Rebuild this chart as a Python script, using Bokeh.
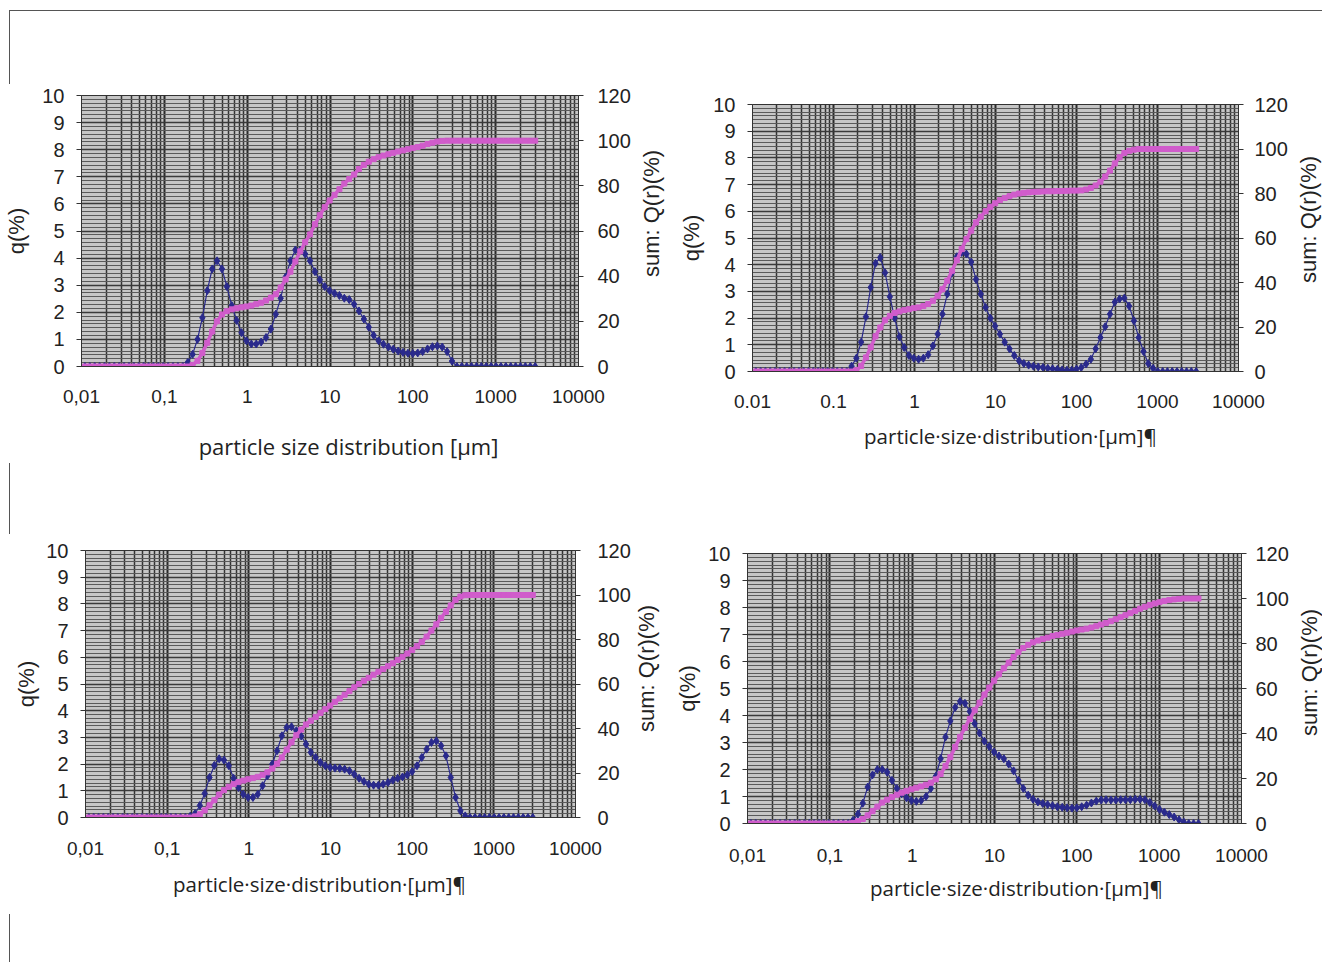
import math
from bokeh.plotting import figure
from bokeh.models import Range1d, LinearAxis, FixedTicker, Div
from bokeh.core.properties import value
from bokeh.embed import file_html
from bokeh.resources import INLINE

# ---------------- data ----------------
sizes_um = [
    0.011, 0.0126, 0.01444, 0.01654, 0.01895, 0.02172, 0.02488, 0.02851, 0.03266, 0.03742,
    0.04287, 0.04912, 0.05628, 0.06449, 0.07388, 0.08465, 0.09699, 0.1111, 0.1273, 0.1459,
    0.1672, 0.1915, 0.2194, 0.2514, 0.288, 0.33, 0.3781, 0.4332, 0.4964, 0.5687,
    0.6516, 0.7465, 0.8553, 0.9799, 1.123, 1.286, 1.474, 1.688, 1.934, 2.216,
    2.539, 2.909, 3.333, 3.819, 4.376, 5.013, 5.744, 6.581, 7.54, 8.64,
    9.899, 11.34, 12.99, 14.89, 17.06, 19.54, 22.39, 25.66, 29.39, 33.68,
    38.59, 44.21, 50.66, 58.04, 66.49, 76.18, 87.29, 100.0, 114.6, 131.3,
    150.4, 172.3, 197.4, 226.2, 259.2, 297.0, 340.2, 389.8, 446.6, 511.7,
    586.3, 671.7, 769.6, 881.8, 1010, 1157, 1326, 1519, 1741, 1994,
    2285, 2618, 3000,
]

q_1 = [
    0, 0, 0, 0, 0, 0, 0, 0, 0, 0,
    0, 0, 0, 0, 0, 0, 0, 0, 0, 0,
    0, 0.15, 0.45, 1.0, 1.8, 2.8, 3.6, 3.9, 3.6, 2.95,
    2.25, 1.7, 1.25, 0.95, 0.83, 0.83, 0.9, 1.07, 1.38, 1.93,
    2.52, 3.3, 3.9, 4.3, 4.3, 4.15, 3.9, 3.5, 3.2, 2.95,
    2.8, 2.7, 2.62, 2.52, 2.47, 2.3, 2.05, 1.75, 1.45, 1.15,
    0.95, 0.82, 0.72, 0.64, 0.57, 0.52, 0.49, 0.48, 0.5, 0.55,
    0.65, 0.73, 0.76, 0.72, 0.55, 0.2, 0, 0, 0, 0,
    0, 0, 0, 0, 0, 0, 0, 0, 0, 0,
    0, 0, 0,
]
Q_1 = [
    0, 0, 0, 0, 0, 0, 0, 0, 0, 0,
    0, 0, 0, 0, 0, 0, 0, 0, 0, 0,
    0, 0, 0.7, 2.5, 6, 10.5, 15.5, 20, 23, 24.5,
    25.3, 25.8, 26.2, 26.6, 27, 27.6, 28.2, 29.2, 30.5, 32,
    35, 38.5, 42, 46.5, 51, 55, 58.5, 63, 67, 70.5,
    73.5, 76, 78.5, 81, 83, 85, 87.5, 89.3, 90.7, 91.8,
    92.7, 93.4, 94, 94.6, 95.2, 95.7, 96.2, 96.7, 97.2, 97.8,
    98.5, 99.1, 99.6, 99.9, 100, 100, 100, 100, 100, 100,
    100, 100, 100, 100, 100, 100, 100, 100, 100, 100,
    100, 100, 100,
]

q_2 = [
    0, 0, 0, 0, 0, 0, 0, 0, 0, 0,
    0, 0, 0, 0, 0, 0, 0, 0, 0, 0,
    0.2, 0.5, 1.1, 2.05, 3.15, 4.05, 4.27, 3.7, 2.8, 2.0,
    1.3, 0.9, 0.6, 0.5, 0.46, 0.5, 0.63, 0.96, 1.4, 2.15,
    2.9, 3.7, 4.3, 4.46, 4.4, 4.1, 3.45, 2.9, 2.4, 2.0,
    1.7, 1.4, 1.1, 0.85, 0.6, 0.4, 0.3, 0.24, 0.2, 0.17,
    0.15, 0.12, 0.1, 0.08, 0.06, 0.05, 0.05, 0.09, 0.15, 0.28,
    0.46, 0.85, 1.27, 1.68, 2.15, 2.6, 2.72, 2.75, 2.45, 1.9,
    1.27, 0.75, 0.3, 0.12, 0, 0, 0, 0, 0, 0,
    0, 0, 0,
]
Q_2 = [
    0, 0, 0, 0, 0, 0, 0, 0, 0, 0,
    0, 0, 0, 0, 0, 0, 0, 0, 0, 0,
    0, 0.6, 2.5, 6.3, 10.8, 15.8, 19.8, 23, 25, 26.3,
    27, 27.6, 28, 28.5, 28.8, 29.4, 30.3, 31.8, 34, 37,
    40.8, 45.3, 50, 55, 59.5, 63.3, 67, 69.6, 72, 74,
    75.6, 77, 78, 78.8, 79.5, 80, 80.3, 80.5, 80.7, 80.8,
    80.9, 81, 81, 81.1, 81.1, 81.2, 81.3, 81.3, 81.4, 81.8,
    82.5, 83.6, 85.3, 87.6, 90.3, 93.5, 96.3, 98.2, 99.2, 99.7,
    100, 100, 100, 100, 100, 100, 100, 100, 100, 100,
    100, 100, 100,
]

q_3 = [
    0, 0, 0, 0, 0, 0, 0, 0, 0, 0,
    0, 0, 0, 0, 0, 0, 0, 0, 0, 0,
    0, 0.05, 0.15, 0.45, 0.9, 1.5, 1.95, 2.2, 2.15, 1.94,
    1.47, 1.12, 0.87, 0.75, 0.75, 0.87, 1.19, 1.56, 2.0, 2.5,
    3.06, 3.37, 3.4, 3.25, 3.05, 2.75, 2.44, 2.25, 2.06, 1.94,
    1.87, 1.85, 1.84, 1.81, 1.75, 1.62, 1.47, 1.35, 1.25, 1.21,
    1.21, 1.25, 1.31, 1.4, 1.47, 1.52, 1.6, 1.72, 1.94, 2.25,
    2.56, 2.81, 2.87, 2.69, 2.31, 1.5, 0.75, 0.25, 0.06, 0,
    0, 0, 0, 0, 0, 0, 0, 0, 0, 0,
    0, 0, 0,
]
Q_3 = [
    0, 0, 0, 0, 0, 0, 0, 0, 0, 0,
    0, 0, 0, 0, 0, 0, 0, 0, 0, 0,
    0, 0, 0.5, 1.5, 3.2, 5.5, 7.8, 10.3, 12.3, 13.8,
    15, 15.9, 16.6, 17.2, 17.7, 18.3, 19.2, 20.3, 22, 24.2,
    27, 30.5, 33.8, 37, 39.5, 41.8, 43.5, 45.2, 47, 48.7,
    50.3, 52, 53.5, 55.2, 56.8, 58.5, 60, 61.5, 62.8, 64.2,
    65.5, 66.7, 68, 69.3, 70.8, 72.2, 73.7, 75.3, 77, 79,
    81.3, 84, 86.8, 89.7, 92.5, 95.3, 97.8, 99.3, 99.9, 100,
    100, 100, 100, 100, 100, 100, 100, 100, 100, 100,
    100, 100, 100,
]

q_4 = [
    0, 0, 0, 0, 0, 0, 0, 0, 0, 0,
    0, 0, 0, 0, 0, 0, 0, 0, 0, 0,
    0, 0.12, 0.35, 0.75, 1.35, 1.8, 2.0, 2.0, 1.9, 1.6,
    1.3, 1.1, 0.95, 0.85, 0.82, 0.85, 1.0, 1.3, 1.75, 2.4,
    3.2, 3.8, 4.3, 4.52, 4.45, 4.15, 3.7, 3.35, 3.05, 2.85,
    2.65, 2.5, 2.4, 2.2, 1.95, 1.6, 1.3, 1.05, 0.9, 0.8,
    0.74, 0.7, 0.66, 0.62, 0.6, 0.58, 0.57, 0.58, 0.62, 0.68,
    0.76, 0.83, 0.87, 0.88, 0.87, 0.87, 0.88, 0.88, 0.88, 0.9,
    0.9, 0.88, 0.78, 0.65, 0.52, 0.42, 0.33, 0.24, 0.14, 0.05,
    0, 0, 0,
]
Q_4 = [
    0, 0, 0, 0, 0, 0, 0, 0, 0, 0,
    0, 0, 0, 0, 0, 0, 0, 0, 0, 0,
    0, 0.2, 1, 2, 3.6, 5.5, 7.5, 9.3, 10.6, 11.8,
    12.8, 13.7, 14.5, 15.2, 15.9, 16.5, 17.2, 18.1, 19.6, 22,
    25.5, 29.5, 34, 38.5, 42.6, 46.5, 50.3, 53.7, 57.3, 60.4,
    63.5, 66.3, 69, 71.5, 74, 76.2, 78, 79.4, 80.5, 81.3,
    82, 82.6, 83.3, 83.8, 84.3, 84.8, 85.3, 85.8, 86.2, 86.6,
    87.1, 87.7, 88.4, 89.1, 89.9, 90.8, 91.7, 92.6, 93.5, 94.5,
    95.5, 96.3, 97.1, 97.8, 98.4, 98.9, 99.3, 99.6, 99.8, 100,
    100, 100, 100,
]

x_ticks = [0.01, 0.1, 1, 10, 100, 1000, 10000]
x_tick_labels_comma = ["0,01", "0,1", "1", "10", "100", "1000", "10000"]
x_tick_labels_dot = ["0.01", "0.1", "1", "10", "100", "1000", "10000"]
q_ticks = [0, 1, 2, 3, 4, 5, 6, 7, 8, 9, 10]
Q_ticks = [0, 20, 40, 60, 80, 100, 120]
x_title_plain = "particle size distribution [µm]"
x_title_marked = "particle·size·distribution·[µm]¶"
y_title = "q(%)"
y2_title = "sum: Q(r)(%)"

# ---------------- style ----------------
BLUE = "#2a2a8c"
MAGENTA = "#d05ccb"
TEXT = "#222222"
TICK_FONT = "Liberation Sans"
TITLE_FONT = "Open Sans"
x_minor = [m * 10.0 ** e for e in range(-2, 4) for m in range(2, 10)]
y_minor = [i / 7 for i in range(71)]


def place(model, left, top):
    model.styles = {"position": "absolute", "left": f"{left}px", "top": f"{top}px"}
    return model


def make_panel(q, Q, xlabels, cfg):
    w = cfg["bl"] + cfg["fw"] + cfg["br"]
    h = cfg["bt"] + cfg["fh"] + cfg["bb"]
    p = figure(width=w, height=h, x_axis_type="log",
               x_range=Range1d(0.01, 10000), y_range=Range1d(0, 10),
               output_backend="svg", toolbar_location=None,
               min_border_left=cfg["bl"], min_border_right=cfg["br"],
               min_border_top=cfg["bt"], min_border_bottom=cfg["bb"],
               background_fill_color="#c6c6c6", border_fill_color="white",
               outline_line_color="#333333", outline_line_width=1)
    p.extra_y_ranges = {"Q": Range1d(0, 120)}

    xa = p.xaxis[0]
    xa.ticker = FixedTicker(ticks=x_ticks, minor_ticks=x_minor)
    xa.major_label_overrides = dict(zip(x_ticks, xlabels))
    xa.major_tick_out = 0
    xa.major_tick_in = 0
    xa.minor_tick_out = 0
    xa.minor_tick_in = 0
    xa.axis_line_color = "#333333"
    xa.major_label_standoff = cfg["xs"]
    xa.major_label_text_font = TICK_FONT
    xa.major_label_text_font_size = "19px"
    xa.major_label_text_color = TEXT

    ya = p.yaxis[0]
    ya.ticker = FixedTicker(ticks=q_ticks, minor_ticks=y_minor)
    ya.major_tick_out = 5
    ya.major_tick_in = 0
    ya.minor_tick_out = 0
    ya.minor_tick_in = 0
    ya.axis_line_color = "#333333"
    ya.major_tick_line_color = "#333333"
    ya.major_label_standoff = 12
    ya.major_label_text_font = TICK_FONT
    ya.major_label_text_font_size = "20px"
    ya.major_label_text_color = TEXT
    ya.axis_label = y_title
    ya.axis_label_standoff = cfg["ls"]
    ya.axis_label_text_font = TICK_FONT
    ya.axis_label_text_font_size = "22px"
    ya.axis_label_text_font_style = "normal"
    ya.axis_label_text_color = TEXT

    ra = LinearAxis(y_range_name="Q", ticker=FixedTicker(ticks=Q_ticks))
    ra.major_tick_out = 5
    ra.major_tick_in = 0
    ra.minor_tick_out = 0
    ra.minor_tick_in = 0
    ra.axis_line_color = "#333333"
    ra.major_tick_line_color = "#333333"
    ra.major_label_standoff = cfg["rs"]
    ra.major_label_text_font = TICK_FONT
    ra.major_label_text_font_size = "20px"
    ra.major_label_text_color = TEXT
    p.add_layout(ra, "right")

    p.xgrid.grid_line_color = "#2a2a2a"
    p.xgrid.grid_line_width = 2
    p.xgrid.minor_grid_line_color = "#333333"
    p.xgrid.minor_grid_line_width = 1.5
    p.ygrid.grid_line_color = "#3a3a3a"
    p.ygrid.grid_line_width = 1.3
    p.ygrid.minor_grid_line_color = "#5a5a5a"
    p.ygrid.minor_grid_line_width = 1

    p.line(sizes_um, q, line_color=BLUE, line_width=1.2)
    p.scatter(sizes_um, q, marker="diamond", size=8, fill_color=BLUE, line_color=BLUE)
    p.line(sizes_um, Q, y_range_name="Q", line_color=MAGENTA, line_width=3.5)
    p.scatter(sizes_um, Q, y_range_name="Q", marker="square", size=5,
              fill_color=MAGENTA, line_color=MAGENTA)
    return place(p, cfg["left"], cfg["top"])


def text_box(text, left, top, w, h, cx, cy, font, size, angle):
    f = figure(width=w, height=h, x_range=Range1d(0, w), y_range=Range1d(0, h),
               output_backend="svg", toolbar_location=None, min_border=0,
               x_axis_location=None, y_axis_location=None,
               background_fill_alpha=0, border_fill_alpha=0, outline_line_color=None)
    f.xgrid.visible = False
    f.ygrid.visible = False
    f.text(x=[cx - left], y=[top + h - cy], text=[text], angle=angle,
           text_align="center", text_baseline="middle",
           text_font=value(font), text_font_size=size, text_color=TEXT)
    return place(f, left, top)


def rule(left, top, w, h, color):
    d = Div(text="", width=w, height=h, margin=(0, 0, 0, 0))
    d.styles = {"position": "absolute", "left": f"{left}px", "top": f"{top}px",
                "background-color": color}
    return d


cfg1 = dict(left=0, top=11, bl=81, fw=497, br=60, bt=84, fh=271, bb=50, xs=23, ls=10, rs=14)
cfg2 = dict(left=660, top=11, bl=92, fw=487, br=51, bt=93, fh=267, bb=50, xs=23, ls=6, rs=11)
cfg3 = dict(left=0, top=466, bl=85, fw=490, br=59, bt=84, fh=267, bb=50, xs=24, ls=4, rs=17)
cfg4 = dict(left=660, top=466, bl=87, fw=495, br=49, bt=87, fh=270, bb=52, xs=25, ls=5, rs=9)

roots = [
    make_panel(q_1, Q_1, x_tick_labels_comma, cfg1),
    make_panel(q_2, Q_2, x_tick_labels_dot, cfg2),
    make_panel(q_3, Q_3, x_tick_labels_comma, cfg3),
    make_panel(q_4, Q_4, x_tick_labels_comma, cfg4),
    text_box(x_title_plain, 140, 415, 420, 60, 348, 445, TITLE_FONT, "22px", 0),
    text_box(x_title_marked, 800, 405, 420, 60, 1010, 435, TITLE_FONT, "20.5px", 0),
    text_box(x_title_marked, 110, 853, 420, 60, 319, 883, TITLE_FONT, "20.5px", 0),
    text_box(x_title_marked, 800, 857, 430, 60, 1016, 887, TITLE_FONT, "20.5px", 0),
    text_box(y2_title, 632, 130, 40, 170, 651, 213, TICK_FONT, "22px", math.pi / 2),
    text_box(y2_title, 1292, 130, 30, 170, 1308, 219, TICK_FONT, "22px", math.pi / 2),
    text_box(y2_title, 628, 580, 40, 180, 646, 668, TICK_FONT, "22px", math.pi / 2),
    text_box(y2_title, 1292, 580, 30, 180, 1309, 672, TICK_FONT, "22px", math.pi / 2),
    rule(9, 10, 1313, 1, "#555555"),
    rule(9, 10, 1, 74, "#555555"),
    rule(9, 463, 1, 71, "#555555"),
    rule(9, 914, 1, 48, "#555555"),
]

open("out.html", "w").write(file_html(roots, INLINE, title="particle size distribution"))
